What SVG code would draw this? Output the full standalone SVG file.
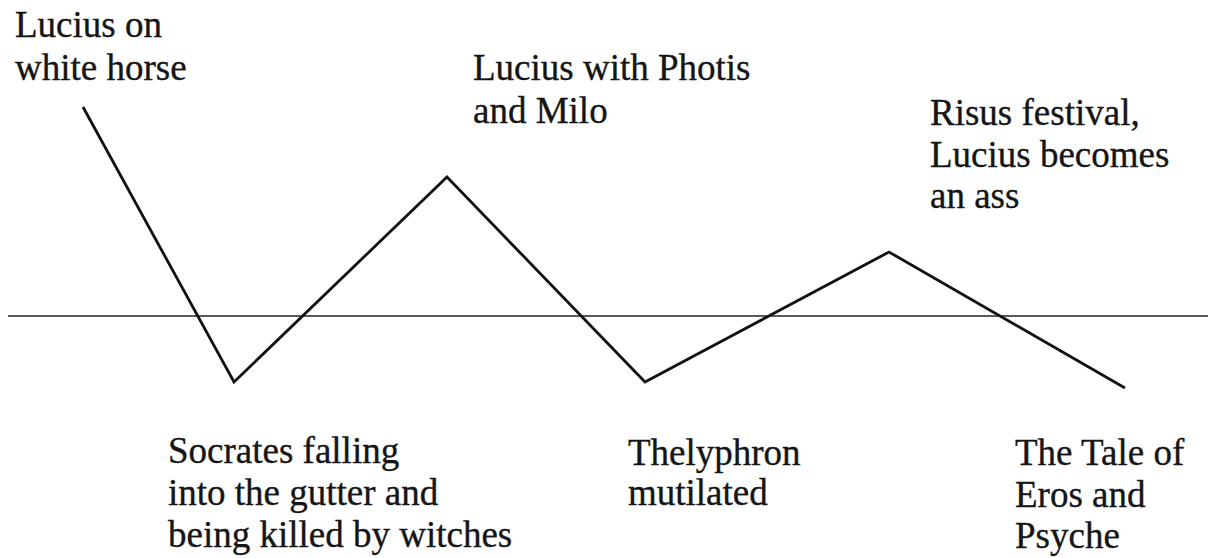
<svg xmlns="http://www.w3.org/2000/svg" width="1208" height="558" viewBox="0 0 1208 558">
  <style>
    .label { font-family: "Liberation Serif", "Times New Roman", serif; font-size: 37px; fill: #151515; stroke: #151515; stroke-width: 0.35; }
    .axis { stroke: #5a5a5a; stroke-width: 2; fill: none; }
    .plot { stroke: #111; stroke-width: 2.8; fill: none; stroke-linejoin: miter; }
  </style>
  <rect width="1208" height="558" fill="#ffffff"/>

  <!-- baseline and fortune curve -->
  <g id="connectors">
    <line class="axis" x1="8" y1="316" x2="1208" y2="316"/>
    <polyline class="plot" points="83,107 234,382 447,177 645,382 889,252 1125,388"/>
  </g>

  <g id="node-lucius-horse">
    <text class="label" x="15" y="37">Lucius on</text>
    <text class="label" x="15" y="80">white horse</text>
  </g>

  <g id="node-socrates">
    <text class="label" x="168" y="463">Socrates falling</text>
    <text class="label" x="168" y="505">into the gutter and</text>
    <text class="label" x="168" y="547">being killed by witches</text>
  </g>

  <g id="node-photis-milo">
    <text class="label" x="473" y="80">Lucius with Photis</text>
    <text class="label" x="473" y="123">and Milo</text>
  </g>

  <g id="node-thelyphron">
    <text class="label" x="628" y="465">Thelyphron</text>
    <text class="label" x="628" y="505">mutilated</text>
  </g>

  <g id="node-risus">
    <text class="label" x="930" y="125">Risus festival,</text>
    <text class="label" x="930" y="167">Lucius becomes</text>
    <text class="label" x="930" y="208">an ass</text>
  </g>

  <g id="node-eros-psyche">
    <text class="label" x="1015" y="465">The Tale of</text>
    <text class="label" x="1015" y="507">Eros and</text>
    <text class="label" x="1015" y="548">Psyche</text>
  </g>
</svg>
